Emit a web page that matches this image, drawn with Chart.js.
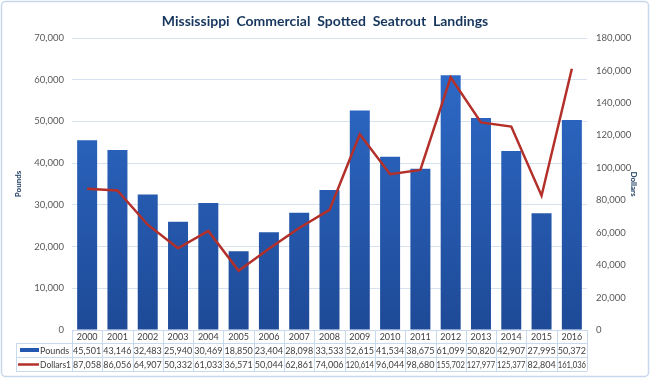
<!DOCTYPE html>
<html>
<head>
<meta charset="utf-8">
<script src="https://cdn.jsdelivr.net/npm/chart.js@4.4.0/dist/chart.umd.min.js"></script>
<style>
html,body{margin:0;padding:0;background:#fff;}
#wrap{width:650px;height:378px;position:relative;}
</style>
</head>
<body>
<div id="wrap"><canvas id="c" width="650" height="378"></canvas></div>
<script>
const titleText = 'Mississippi  Commercial  Spotted  Seatrout  Landings';
const years = ['2000','2001','2002','2003','2004','2005','2006','2007','2008','2009','2010','2011','2012','2013','2014','2015','2016'];
const pounds = [45501,43146,32483,25940,30469,18850,23404,28098,33533,52615,41534,38675,61099,50820,42907,27995,50372];
const dollars = [87058,86056,64907,50332,61033,36571,50044,62861,74006,120614,96044,98680,155702,127977,125377,82804,161036];
const seriesNames = ['Pounds','Dollars1'];
const leftMax = 70000, leftStep = 10000;
const rightMax = 180000, rightStep = 20000;

const fmt = v => Number(v).toLocaleString('en-US');
const FONT = 'Lato, "Liberation Sans", sans-serif';
const gridColor = '#d6e2f0';
const tableColor = '#c9d9ee';
const textColor = '#404040';
const navy = '#17365d';

const framePlugin = {
  id: 'frame',
  beforeDraw(chart) {
    const ctx = chart.ctx;
    ctx.save();
    ctx.fillStyle = '#fff';
    ctx.fillRect(0, 0, chart.width, chart.height);
    ctx.strokeStyle = '#c8d8ec';
    ctx.lineWidth = 1.5;
    ctx.beginPath();
    if (ctx.roundRect) ctx.roundRect(1.5, 1.5, chart.width - 3, chart.height - 3, 4);
    else ctx.rect(1.5, 1.5, chart.width - 3, chart.height - 3);
    ctx.stroke();
    ctx.fillStyle = navy;
    ctx.font = 'bold 14px ' + FONT;
    ctx.textAlign = 'center';
    ctx.textBaseline = 'middle';
    ctx.fillText(titleText, chart.width / 2, 21);
    ctx.restore();
  }
};

const tablePlugin = {
  id: 'datatable',
  afterDraw(chart) {
    const ctx = chart.ctx;
    const ca = chart.chartArea;
    const xs = chart.scales.x;
    const n = years.length;
    const colW = (ca.right - ca.left) / n;
    const top = ca.bottom, r0 = top + 13, r1 = r0 + 14, r2 = r1 + 14;
    const legL = 16;
    ctx.save();
    ctx.strokeStyle = tableColor;
    ctx.lineWidth = 1;
    ctx.beginPath();
    ctx.moveTo(ca.left, top + 0.5); ctx.lineTo(ca.right, top + 0.5);
    ctx.moveTo(legL, r0 + 0.5); ctx.lineTo(ca.right, r0 + 0.5);
    ctx.moveTo(legL, r1 + 0.5); ctx.lineTo(ca.right, r1 + 0.5);
    ctx.moveTo(legL, r2 + 0.5); ctx.lineTo(ca.right, r2 + 0.5);
    ctx.moveTo(legL + 0.5, r0); ctx.lineTo(legL + 0.5, r2);
    for (let i = 0; i <= n; i++) {
      const x = Math.round(ca.left + i * colW) + 0.5;
      ctx.moveTo(x, top); ctx.lineTo(x, r2);
    }
    ctx.stroke();

    ctx.fillStyle = textColor;
    ctx.font = '9px ' + FONT;
    ctx.textAlign = 'center';
    ctx.textBaseline = 'middle';
    for (let i = 0; i < n; i++) {
      const cx = xs.getPixelForValue(i);
      ctx.fillText(years[i], cx, (top + r0) / 2 + 1, colW - 2);
      ctx.fillText(fmt(pounds[i]), cx, (r0 + r1) / 2 + 1, colW - 2);
      ctx.fillText(fmt(dollars[i]), cx, (r1 + r2) / 2 + 1, colW - 2);
    }
    ctx.fillStyle = '#2458b0';
    ctx.fillRect(20, (r0 + r1) / 2 - 2, 19, 4);
    ctx.strokeStyle = '#b3302a';
    ctx.lineWidth = 2.5;
    ctx.beginPath();
    ctx.moveTo(18, (r1 + r2) / 2 + 0.5); ctx.lineTo(39, (r1 + r2) / 2 + 0.5);
    ctx.stroke();
    ctx.fillStyle = textColor;
    ctx.textAlign = 'left';
    ctx.fillText(seriesNames[0], 40, (r0 + r1) / 2 + 1, 31);
    ctx.fillText(seriesNames[1], 40, (r1 + r2) / 2 + 1, 31);
    ctx.restore();
  }
};

function barGradient(context) {
  const chart = context.chart;
  const ca = chart.chartArea;
  if (!ca) return '#2a62bb';
  const g = chart.ctx.createLinearGradient(0, ca.top, 0, ca.bottom);
  g.addColorStop(0, '#2f6dcc');
  g.addColorStop(1, '#1e4a97');
  return g;
}

new Chart(document.getElementById('c'), {
  data: {
    labels: years,
    datasets: [
      {
        type: 'line',
        label: seriesNames[1],
        data: dollars,
        yAxisID: 'y1',
        borderColor: '#b3302a',
        borderWidth: 2.5,
        pointRadius: 0,
        tension: 0,
        order: 0
      },
      {
        type: 'bar',
        label: seriesNames[0],
        data: pounds,
        yAxisID: 'y',
        backgroundColor: barGradient,
        barPercentage: 0.66,
        categoryPercentage: 1,
        order: 1
      }
    ]
  },
  options: {
    responsive: false,
    animation: false,
    layout: { padding: { top: 38, bottom: 48, left: 0, right: 0 } },
    plugins: { legend: { display: false }, title: { display: false }, tooltip: { enabled: false } },
    scales: {
      x: { display: false, offset: true, grid: { display: false } },
      y: {
        position: 'left',
        min: 0, max: leftMax,
        ticks: { stepSize: leftStep, callback: v => fmt(v), color: '#595959', font: { family: FONT, size: 9.5 }, padding: 8 },
        grid: { color: gridColor, drawTicks: false, lineWidth: 1 },
        border: { display: false },
        title: { display: true, text: 'Pounds', color: navy, font: { family: FONT, size: 8, weight: 'bold' }, padding: { top: 14, bottom: 0 } },
        afterFit(scale) { scale.width = 72; }
      },
      y1: {
        position: 'right',
        min: 0, max: rightMax,
        ticks: { stepSize: rightStep, callback: v => fmt(v), color: '#595959', font: { family: FONT, size: 9.5 }, padding: 9 },
        grid: { display: false, drawTicks: false },
        border: { display: false },
        title: { display: true, text: 'Dollars', color: navy, font: { family: FONT, size: 8, weight: 'bold' }, padding: { top: 12, bottom: 0 } },
        afterFit(scale) { scale.width = 63; }
      }
    }
  },
  plugins: [framePlugin, tablePlugin]
});
</script>
</body>
</html>
